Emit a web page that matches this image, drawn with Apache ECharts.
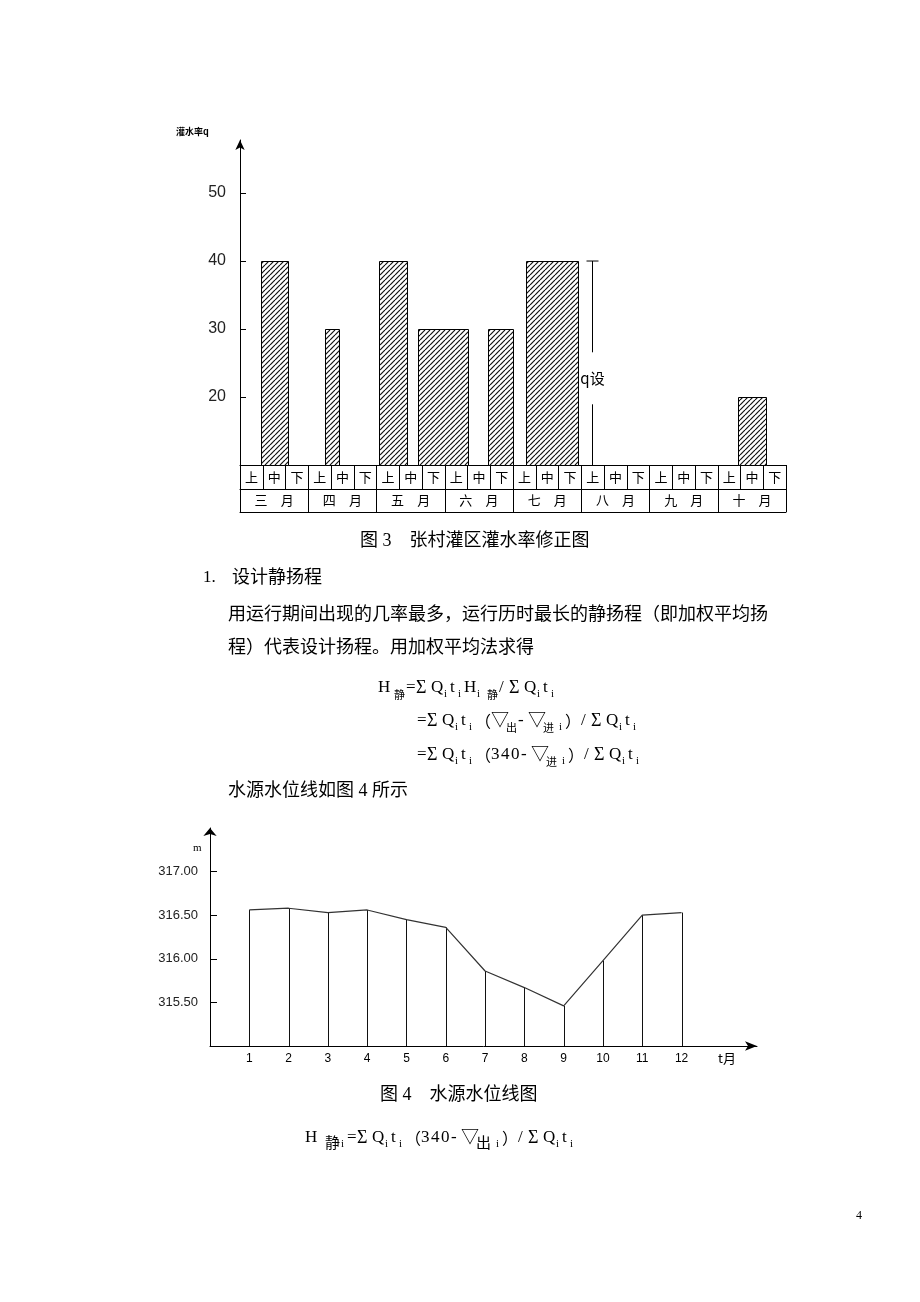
<!DOCTYPE html>
<html>
<head>
<meta charset="utf-8">
<script src="https://cdn.jsdelivr.net/npm/echarts@6/dist/echarts.min.js"></script>
<style>
html,body{margin:0;padding:0;background:#fff;}
#main{width:920px;height:1302px;}
</style>
</head>
<body>
<div id="main"></div>
<script>
// ---------- Figure 3 data ----------
const dekadLabels = ['上','中','下','上','中','下','上','中','下','上','中','下','上','中','下','上','中','下','上','中','下','上','中','下'];
const monthLabels = ['三\u2003月','四\u2003月','五\u2003月','六\u2003月','七\u2003月','八\u2003月','九\u2003月','十\u2003月'];
const barStart = [0.92, 3.74, 6.11, 7.82, 10.90, 12.57, 21.89];
const barEnd   = [2.11, 4.35, 7.34, 10.02, 12.00, 14.86, 23.12];
const barValue = [40, 30, 40, 30, 30, 40, 20];
const fig3YTicks = [20, 30, 40, 50];
const qDesignX = 15.47;
const qDesignValue = 40;

// ---------- Figure 4 data ----------
const months = [1,2,3,4,5,6,7,8,9,10,11,12];
const waterLevel = [316.56, 316.58, 316.53, 316.56, 316.45, 316.36, 315.86, 315.67, 315.46, 315.98, 316.50, 316.53];
const fig4YTicks = [315.5, 316.0, 316.5, 317.0];

// hatch pattern
const pat = document.createElement('canvas');
pat.width = 5; pat.height = 5;
(function(){
  const c = pat.getContext('2d');
  c.fillStyle = '#fff'; c.fillRect(0,0,5,5);
  c.strokeStyle = '#111'; c.lineWidth = 1.2;
  [-5,0,5].forEach(k => { c.beginPath(); c.moveTo(k,5); c.lineTo(k+5,0); c.stroke(); });
})();

const SERIF = '"Liberation Serif", "Noto Sans CJK SC", serif';
const CJK = '"Noto Sans CJK SC", sans-serif';
const BODY = '"Liberation Serif", "Noto Sans CJK SC"';

const chart = echarts.init(document.getElementById('main'), null, {renderer:'canvas', width:920, height:1302});

const axisBlack = {lineStyle:{color:'#000', width:1}};

const richStyles = {
  H:{fontSize:17, fontFamily:SERIF, lineHeight:24, width:16, fill:'#000'},
  m:{fontSize:17, fontFamily:SERIF, lineHeight:24, width:10, fill:'#000'},
  q:{fontSize:17, fontFamily:SERIF, lineHeight:24, width:13, fill:'#000'},
  t:{fontSize:17, fontFamily:SERIF, lineHeight:24, width:8, fill:'#000'},
  w:{fontSize:18, fontFamily:SERIF, lineHeight:24, width:15, fill:'#000'},
  p:{fontSize:16, fontFamily:CJK, lineHeight:24, width:16, fill:'#000'},
  s:{fontSize:11, fontFamily:SERIF, lineHeight:12, width:6, verticalAlign:'bottom', fill:'#000'},
  c:{fontSize:11, fontFamily:CJK, lineHeight:13, width:12, verticalAlign:'bottom', fill:'#000'},
  l:{fontSize:15, fontFamily:CJK, lineHeight:19, width:16, verticalAlign:'bottom', fill:'#000'},
  g:{fontSize:11, lineHeight:12, width:4}
};
function tk(style, chars){ return chars.split('').map(ch => '{' + style + '|' + ch + '}').join(''); }
const QT = tk('q','Q') + tk('s','i') + tk('t','t') + tk('s','i');
const SP = '{g|\u00a0}';

const formula1 = tk('H','H') + tk('c','静') + tk('m','=') + tk('w','Σ') + QT + tk('q','H') + tk('s','i') + SP + tk('c','静') + tk('m','/') + tk('w','Σ') + QT;
const formula2 = tk('m','=') + tk('w','Σ') + QT + tk('p','（') + tk('w','▽') + tk('c','出') + tk('m','-') + tk('w','▽') + tk('c','进') + SP + tk('s','i') + tk('p','）') + tk('m','/') + tk('w','Σ') + QT;
const formula3 = tk('m','=') + tk('w','Σ') + QT + tk('p','（') + tk('m','340-') + tk('w','▽') + tk('c','进') + SP + tk('s','i') + tk('p','）') + tk('m','/') + tk('w','Σ') + QT;
const formula4 = tk('H','H') + SP + tk('l','静') + tk('s','i') + tk('m','=') + tk('w','Σ') + QT + tk('p','（') + tk('m','340-') + tk('w','▽') + tk('l','出') + SP + tk('s','i') + tk('p','）') + tk('m','/') + tk('w','Σ') + QT;

function txt(x, y, text, size, extra){
  return Object.assign({type:'text', x:x, y:y, silent:true,
    style:Object.assign({text:text, fontSize:size, fontFamily:BODY, fill:'#000', verticalAlign:'middle'}, extra||{})});
}
function rtxt(x, y, text){
  return {type:'text', x:x, y:y, silent:true, style:{text:text, rich:richStyles, verticalAlign:'middle'}};
}

const option = {
  backgroundColor:'#fff',
  animation:false,
  grid:[
    {left:240, top:140, width:546, height:325},
    {left:210, top:828, width:547, height:218}
  ],
  xAxis:[
    {gridIndex:0, type:'value', min:0, max:24, show:false},
    {gridIndex:0, type:'category', data:dekadLabels, position:'bottom', offset:0, boundaryGap:true,
      axisLine:axisBlack, axisTick:{show:true, interval:0, length:24, lineStyle:{color:'#000'}},
      axisLabel:{interval:0, margin:6, fontSize:13, fontFamily:CJK, color:'#000'}, splitLine:{show:false}},
    {gridIndex:0, type:'category', data:monthLabels, position:'bottom', offset:24, boundaryGap:true,
      axisLine:axisBlack, axisTick:{show:true, interval:0, length:23, lineStyle:{color:'#000'}},
      axisLabel:{interval:0, margin:5, fontSize:13, fontFamily:CJK, color:'#000'}, splitLine:{show:false}},
    {gridIndex:0, type:'category', data:monthLabels, position:'bottom', offset:47,
      axisLine:axisBlack, axisTick:{show:false}, axisLabel:{show:false}, splitLine:{show:false}},
    {gridIndex:1, type:'value', min:0, max:13.92,
      axisLine:{show:true, symbol:['none','arrow'], symbolSize:[7,12], lineStyle:{color:'#000', width:1}},
      axisTick:{show:false},
      axisLabel:{customValues:months, margin:7, fontSize:12, fontFamily:'"Liberation Sans", sans-serif', color:'#000'},
      splitLine:{show:false}}
  ],
  yAxis:[
    {gridIndex:0, type:'value', min:10, max:57.8,
      axisLine:{show:true, symbol:['none','arrow'], symbolSize:[7,10], lineStyle:{color:'#000', width:1}},
      axisTick:{show:true, inside:true, length:6, customValues:fig3YTicks, lineStyle:{color:'#000'}},
      axisLabel:{customValues:fig3YTicks, margin:14, fontSize:16, fontFamily:'"Liberation Sans", sans-serif', color:'#222'},
      splitLine:{show:false}},
    {gridIndex:1, type:'value', min:315, max:317.5,
      axisLine:{show:true, symbol:['none','arrow'], symbolSize:[10,8], lineStyle:{color:'#000', width:1}},
      axisTick:{show:true, inside:true, length:7, customValues:fig4YTicks, lineStyle:{color:'#000'}},
      axisLabel:{customValues:fig4YTicks, margin:12, fontSize:13, fontFamily:'"Liberation Sans", sans-serif', color:'#222',
        formatter:v => v.toFixed(2)},
      splitLine:{show:false}}
  ],
  series:[
    {
      type:'custom', xAxisIndex:0, yAxisIndex:0,
      data: barStart.map((s,i) => [s, barEnd[i], barValue[i]]),
      encode:{x:[0,1], y:2},
      renderItem:function(params, api){
        const p0 = api.coord([api.value(0), api.value(2)]);
        const p1 = api.coord([api.value(1), 10]);
        return {type:'rect', shape:{x:Math.round(p0[0])+0.5, y:Math.round(p0[1])+0.5, width:Math.round(p1[0]-p0[0]), height:Math.round(p1[1]-p0[1])},
          style:{fill:{image:pat, repeat:'repeat'}, stroke:'#000', lineWidth:1}};
      }
    },
    {
      type:'custom', xAxisIndex:0, yAxisIndex:0,
      data:[[qDesignX, qDesignValue]],
      renderItem:function(params, api){
        const pt = api.coord([api.value(0), api.value(1)]);
        const pb = api.coord([api.value(0), 10]);
        const x = Math.round(pt[0])+0.5;
        const ly = pt[1] + 0.575*(pb[1]-pt[1]);
        return {type:'group', children:[
          {type:'line', shape:{x1:x-6, y1:pt[1], x2:x+6, y2:pt[1]}, style:{stroke:'#000', lineWidth:1}},
          {type:'line', shape:{x1:x, y1:pt[1], x2:x, y2:ly-26}, style:{stroke:'#000', lineWidth:1}},
          {type:'line', shape:{x1:x, y1:ly+26, x2:x, y2:pb[1]}, style:{stroke:'#000', lineWidth:1}},
          {type:'text', x:x, y:ly, style:{text:'q设', fontSize:15, fontFamily:CJK, fill:'#000', align:'center', verticalAlign:'middle'}}
        ]};
      }
    },
    {
      type:'custom', xAxisIndex:4, yAxisIndex:1,
      data: months.map((m,i) => [m, waterLevel[i]]),
      renderItem:function(params, api){
        const p = api.coord([api.value(0), api.value(1)]);
        const b = api.coord([api.value(0), 315]);
        const x = Math.round(p[0])+0.5;
        return {type:'line', shape:{x1:x, y1:p[1], x2:x, y2:b[1]}, style:{stroke:'#111', lineWidth:1}};
      }
    },
    {
      type:'line', xAxisIndex:4, yAxisIndex:1,
      data: months.map((m,i) => [m, waterLevel[i]]),
      showSymbol:false, symbol:'none',
      lineStyle:{color:'#333', width:1.2}
    }
  ],
  graphic:[
    txt(176, 132, '灌水率q', 9, {fontFamily:CJK, fontWeight:'bold'}),
    txt(360, 541, '图 3\u3000张村灌区灌水率修正图', 18),
    txt(203, 578, '1.', 17),
    txt(232, 578, '设计静扬程', 18),
    txt(228, 615, '用运行期间出现的几率最多，运行历时最长的静扬程（即加权平均扬', 18),
    txt(228, 648, '程）代表设计扬程。用加权平均法求得', 18),
    rtxt(378, 688, formula1),
    rtxt(417, 721, formula2),
    rtxt(417, 755, formula3),
    txt(228, 791, '水源水位线如图 4 所示', 18),
    txt(193, 848, 'm', 11, {fontFamily:'"Liberation Serif", serif'}),
    txt(718, 1058, 't月', 13, {fontFamily:CJK}),
    txt(380, 1095, '图 4\u3000水源水位线图', 18),
    rtxt(305, 1138, formula4),
    txt(856, 1216, '4', 12)
  ]
};
chart.setOption(option);
</script>
</body>
</html>
